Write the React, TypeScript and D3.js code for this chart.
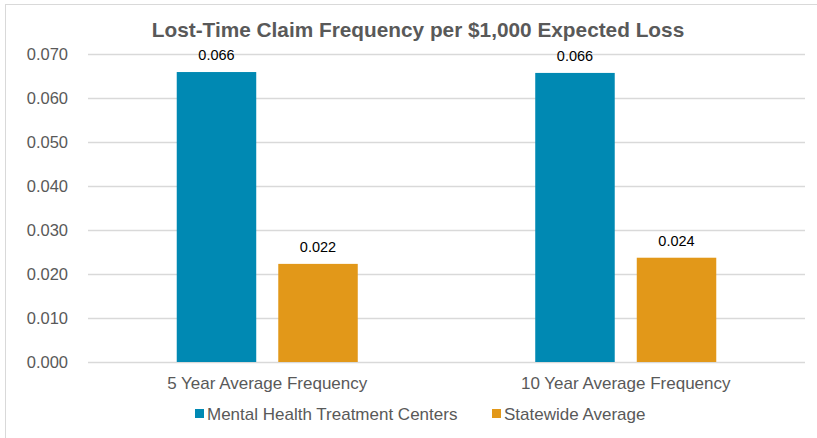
import React, { useEffect, useRef } from 'react';
import * as d3 from 'd3';

const categorias = ['5 Year Average Frequency', '10 Year Average Frequency'];
const series = ['Mental Health Treatment Centers', 'Statewide Average'];
const mentalHealth = [0.0659, 0.0657];
const statewide = [0.0223, 0.0237];
const rotulos = ['0.066', '0.066', '0.022', '0.024'];
const ticks = [0, 0.01, 0.02, 0.03, 0.04, 0.05, 0.06, 0.07];
const cores = ['#0089B3', '#E29819'];

const titulo = 'Lost-Time Claim Frequency per $1,000 Expected Loss';

export default function App() {
  const svgRef = useRef<SVGSVGElement | null>(null);

  useEffect(() => {
    const largura = 817;
    const altura = 438;
    const margem = { top: 54, right: 12, bottom: 76, left: 88 };
    const fonte = '"Liberation Sans", Arial, sans-serif';

    const svg = d3.select(svgRef.current);
    svg.selectAll('*').remove();

    // borda do gráfico (só topo e esquerda aparecem)
    svg.append('rect')
      .attr('x', 5.5)
      .attr('y', 4.5)
      .attr('width', largura + 20)
      .attr('height', altura + 20)
      .attr('fill', 'white')
      .attr('stroke', '#D9D9D9')
      .attr('stroke-width', 1);

    const x0 = d3.scaleBand<string>()
      .domain(categorias)
      .range([margem.left, largura - margem.right])
      .padding(0);

    const x1 = d3.scaleBand<string>()
      .domain(series)
      .range([0, x0.bandwidth()])
      .paddingInner(0.217)
      .paddingOuter(0.874);

    const y = d3.scaleLinear()
      .domain([0, 0.07])
      .range([altura - margem.bottom, margem.top]);

    // linhas de grade
    svg.append('g')
      .selectAll('line')
      .data(ticks)
      .enter()
      .append('line')
      .attr('x1', margem.left)
      .attr('x2', largura - margem.right)
      .attr('y1', d => Math.round(y(d)) + 0.5)
      .attr('y2', d => Math.round(y(d)) + 0.5)
      .attr('stroke', '#D9D9D9')
      .attr('stroke-width', 1.3);

    svg.append('g')
      .selectAll('text')
      .data(ticks)
      .enter()
      .append('text')
      .attr('x', 68)
      .attr('y', d => y(d) + 6)
      .attr('text-anchor', 'end')
      .attr('fill', '#595959')
      .style('font-family', fonte)
      .style('font-size', '16.5px')
      .text(d => d3.format('.3f')(d));

    const dados = series.flatMap((s, si) =>
      categorias.map((c, ci) => ({
        serie: s,
        cat: c,
        valor: si === 0 ? mentalHealth[ci] : statewide[ci],
        rotulo: rotulos[si * 2 + ci],
        cor: cores[si],
      }))
    );

    const barras = svg.append('g')
      .selectAll('g')
      .data(dados)
      .enter()
      .append('g');

    barras.append('rect')
      .attr('x', d => (x0(d.cat) as number) + (x1(d.serie) as number))
      .attr('width', x1.bandwidth())
      .attr('y', d => y(d.valor))
      .attr('height', d => y(0) - y(d.valor))
      .attr('fill', d => d.cor);

    barras.append('text')
      .attr('x', d => (x0(d.cat) as number) + (x1(d.serie) as number) + x1.bandwidth() / 2)
      .attr('y', d => y(d.valor) - 12)
      .attr('text-anchor', 'middle')
      .attr('fill', '#000')
      .style('font-family', fonte)
      .style('font-size', '14.5px')
      .text(d => d.rotulo);

    svg.append('g')
      .selectAll('text')
      .data(categorias)
      .enter()
      .append('text')
      .attr('x', d => (x0(d) as number) + x0.bandwidth() / 2)
      .attr('y', 389)
      .attr('text-anchor', 'middle')
      .attr('fill', '#595959')
      .style('font-family', fonte)
      .style('font-size', '17px')
      .text(d => d);

    // legenda
    const legendaX = [195, 492];
    const legenda = svg.append('g')
      .selectAll('g')
      .data(series)
      .enter()
      .append('g')
      .attr('transform', (d, i) => `translate(${legendaX[i]}, 409)`);

    legenda.append('rect')
      .attr('width', 9)
      .attr('height', 9)
      .attr('fill', (d, i) => cores[i]);

    legenda.append('text')
      .attr('x', 12)
      .attr('y', 11)
      .attr('fill', '#595959')
      .style('font-family', fonte)
      .style('font-size', '17px')
      .text(d => d);

    svg.append('text')
      .attr('x', 418)
      .attr('y', 37)
      .attr('text-anchor', 'middle')
      .attr('fill', '#595959')
      .style('font-family', fonte)
      .style('font-size', '20.8px')
      .style('font-weight', 'bold')
      .text(titulo);
  }, []);

  return (
    <div style={{ position: 'absolute', left: 0, top: 0, width: 817, height: 438, overflow: 'hidden', background: 'white' }}>
      <svg ref={svgRef} width={817} height={438} style={{ display: 'block' }} />
    </div>
  );
}
